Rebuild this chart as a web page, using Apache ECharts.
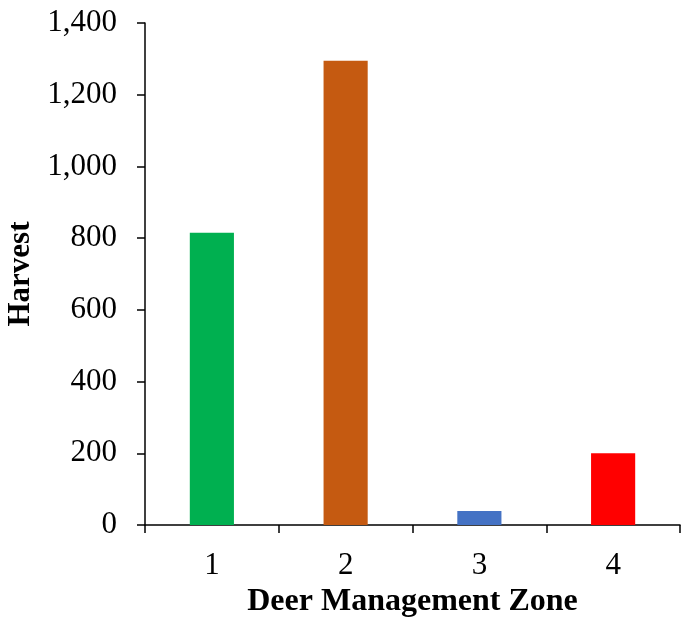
<!DOCTYPE html>
<html>
<head>
<meta charset="utf-8">
<script src="https://cdn.jsdelivr.net/npm/echarts@6/dist/echarts.min.js"></script>
<style>html,body{margin:0;padding:0;background:#fff}#c{width:682px;height:624px}</style>
</head>
<body>
<div id="c"></div>
<script>
const zones = ['1', '2', '3', '4'];
const harvest = [815, 1295, 39, 200];
const barColors = ['#00B050', '#C55A11', '#4472C4', '#FF0000'];
const yTicks = { min: 0, max: 1400, interval: 200 };

const chart = echarts.init(document.getElementById('c'), null, { renderer: 'canvas' });
const font = '"Liberation Serif", "Times New Roman", serif';
chart.setOption({
  animation: false,
  backgroundColor: '#fff',
  grid: { left: 145, right: 2, top: 23, bottom: 99, containLabel: false, outerBoundsMode: 'none' },
  xAxis: {
    type: 'category',
    data: zones,
    name: 'Deer Management Zone',
    nameLocation: 'middle',
    nameGap: 53,
    nameTextStyle: { fontFamily: font, fontSize: 32, fontWeight: 'bold', color: '#000' },
    axisLine: { lineStyle: { color: '#000', width: 1.5 } },
    axisTick: { show: true, length: 8, lineStyle: { color: '#000', width: 1.5 } },
    axisLabel: { fontFamily: font, fontSize: 31, color: '#000', margin: 25 }
  },
  yAxis: {
    type: 'value',
    min: yTicks.min, max: yTicks.max, interval: yTicks.interval,
    name: 'Harvest',
    nameLocation: 'middle',
    nameGap: 103,
    nameTextStyle: { fontFamily: font, fontSize: 31, fontWeight: 'bold', color: '#000' },
    axisLine: { show: true, lineStyle: { color: '#000', width: 1.5 } },
    axisTick: { show: true, length: 8, lineStyle: { color: '#000', width: 1.5 } },
    splitLine: { show: false },
    axisLabel: {
      fontFamily: font, fontSize: 31, color: '#000', margin: 28,
      formatter: v => v.toLocaleString('en-US')
    }
  },
  series: [{
    type: 'bar',
    barWidth: '33%',
    data: harvest.map((v, i) => ({ value: v, itemStyle: { color: barColors[i] } }))
  }]
});
</script>
</body>
</html>
